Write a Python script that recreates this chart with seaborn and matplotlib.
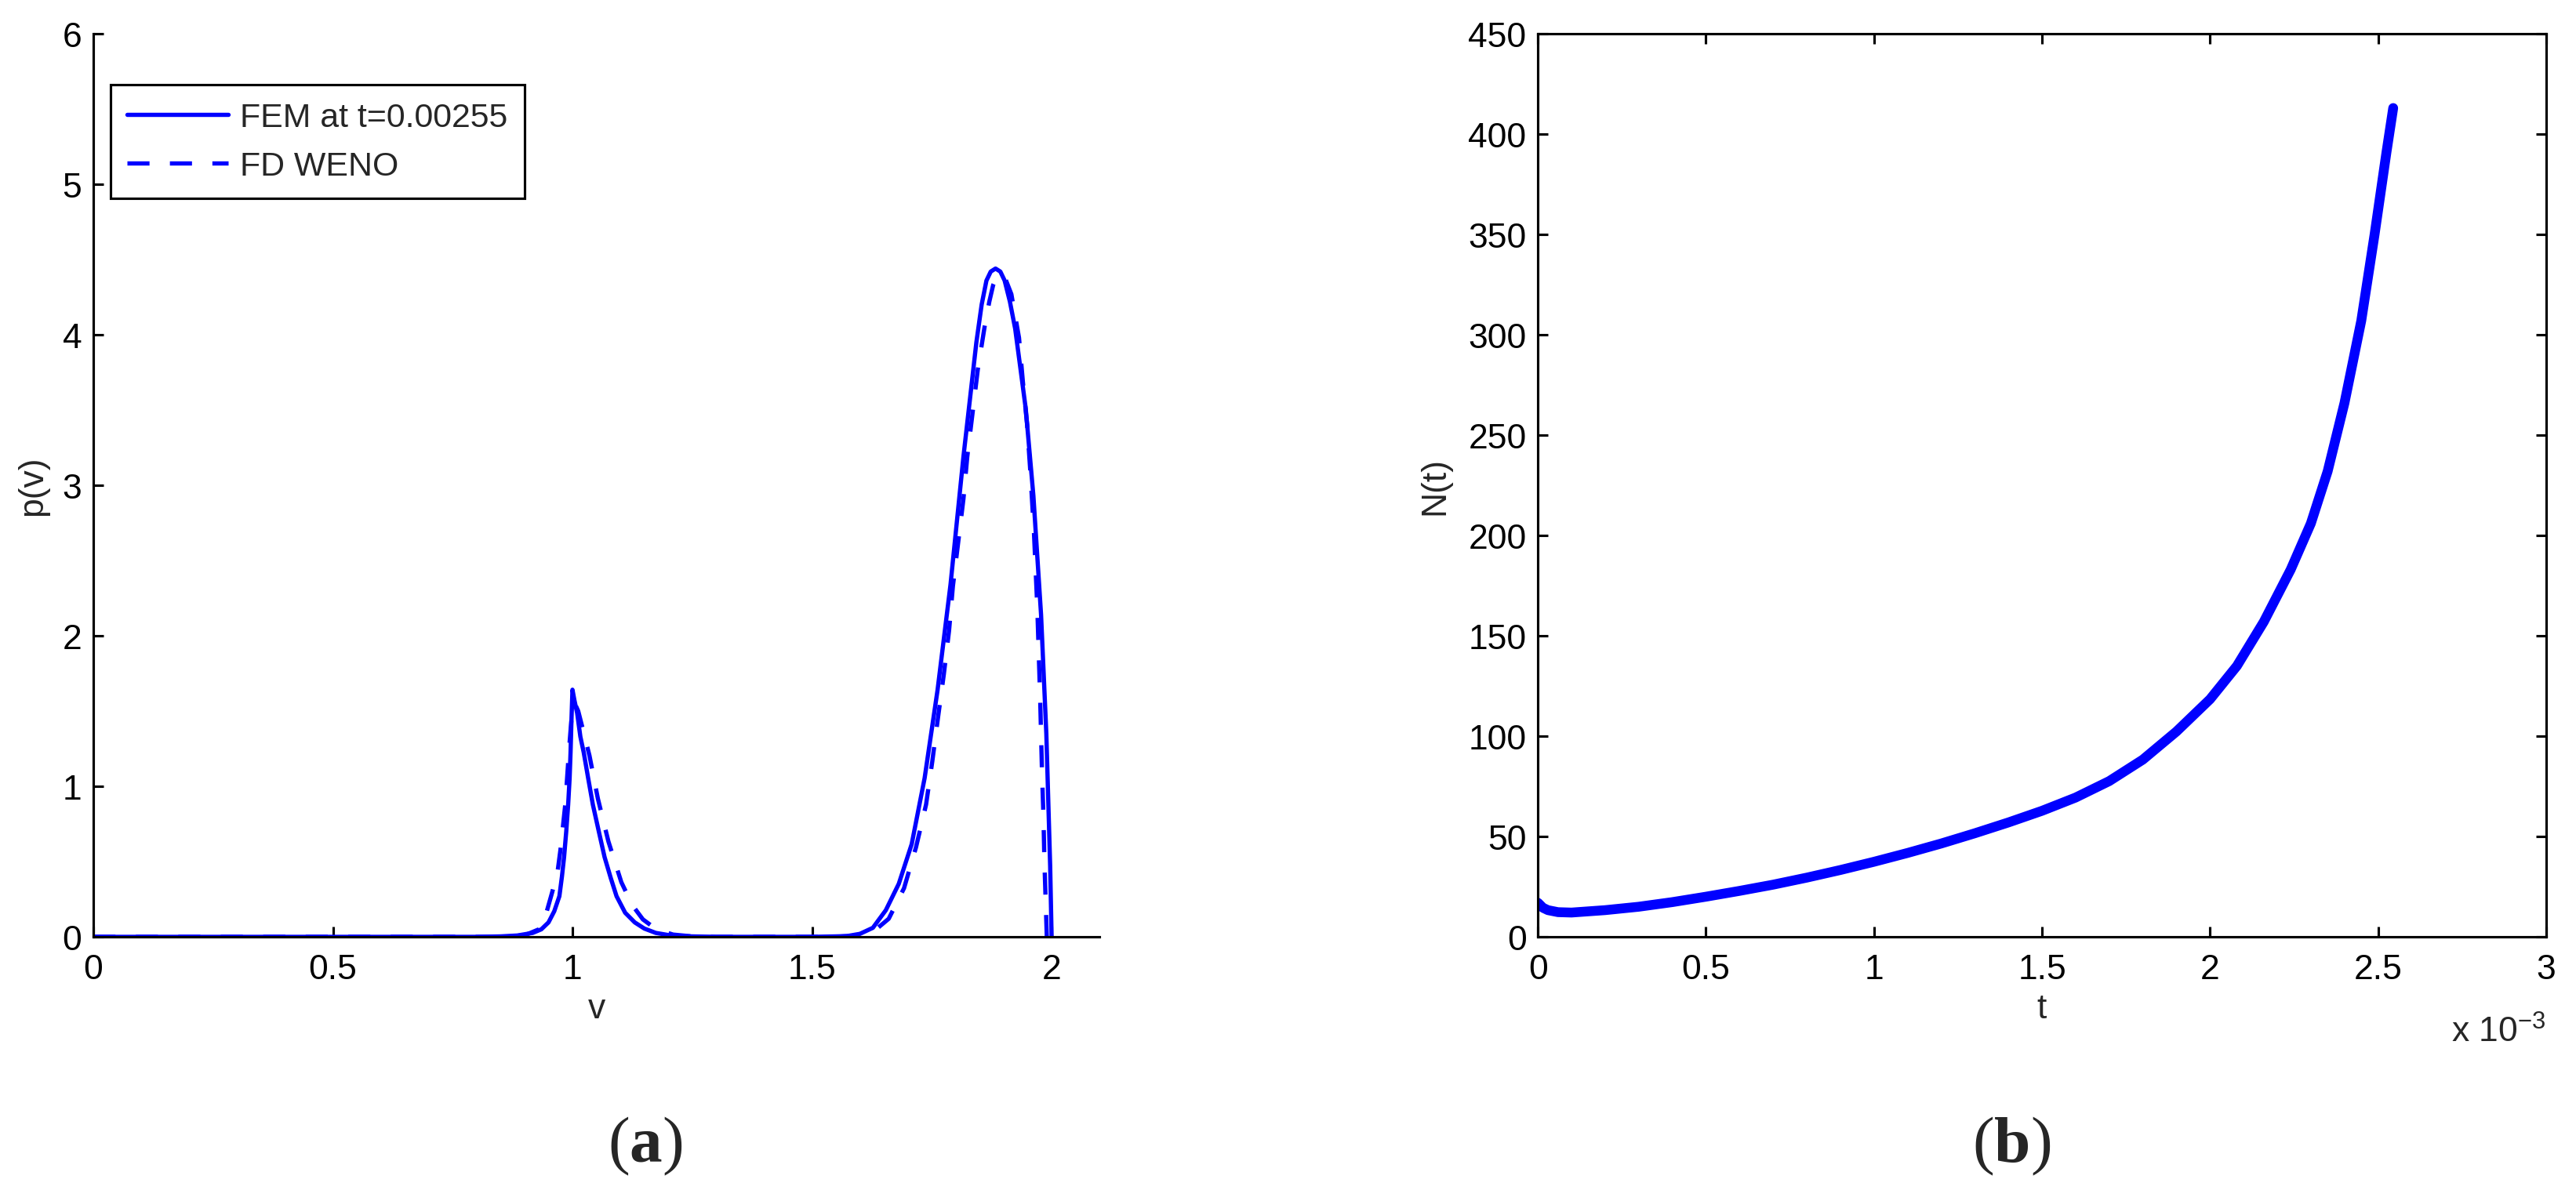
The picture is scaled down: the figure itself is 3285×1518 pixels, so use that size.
import matplotlib
matplotlib.use('Agg')
import matplotlib.pyplot as plt
import seaborn as sns
import pandas as pd

# (a) p(v) at t=0.00255, FEM (solid) vs FD WENO (dashed)
v_fem = [0.0, 0.5, 0.80, 0.85, 0.885, 0.917, 0.935, 0.950, 0.962, 0.9727, 0.978, 0.9825,
         0.987, 0.991, 0.994, 0.996, 0.998, 1.000, 1.004, 1.0098, 1.0165, 1.0235, 1.033,
         1.0426, 1.055, 1.067, 1.080, 1.092, 1.110, 1.130, 1.150, 1.174, 1.200, 1.234, 1.30,
         1.50, 1.55, 1.573, 1.60, 1.627, 1.654, 1.681, 1.708, 1.735, 1.762, 1.789, 1.816,
         1.843, 1.854, 1.864, 1.873, 1.883, 1.893, 1.902, 1.913, 1.924, 1.946, 1.962,
         1.978, 1.989, 1.997, 2.000]
p_fem = [0.0, 0.0, 0.0, 0.003, 0.009, 0.026, 0.05, 0.096, 0.17, 0.27, 0.40, 0.53,
         0.70, 0.878, 1.05, 1.225, 1.45, 1.642, 1.573, 1.486, 1.33, 1.225, 1.05,
         0.878, 0.70, 0.53, 0.39, 0.27, 0.16, 0.096, 0.055, 0.026, 0.012, 0.004, 0.0,
         0.0, 0.003, 0.005, 0.02, 0.06, 0.177, 0.352, 0.616, 1.055, 1.64, 2.34, 3.19,
         3.95, 4.20, 4.36, 4.42, 4.44, 4.42, 4.36, 4.22, 4.04, 3.51, 2.93,
         2.14, 1.35, 0.47, 0.0]

v_weno = [0.0, 0.85, 0.90, 0.93, 0.946, 0.958, 0.969, 0.975, 0.980, 0.985, 0.988, 0.993,
          0.998, 1.005, 1.012, 1.020, 1.0355, 1.053, 1.075, 1.102, 1.125, 1.147, 1.175,
          1.21, 1.25, 1.30, 1.55, 1.60, 1.63, 1.66, 1.692, 1.717, 1.738, 1.751, 1.763,
          1.775, 1.786, 1.794, 1.805, 1.816, 1.824, 1.835, 1.846, 1.860, 1.870, 1.878,
          1.885, 1.892, 1.898, 1.905, 1.916, 1.932, 1.940, 1.949, 1.955, 1.963, 1.970,
          1.976, 1.980, 1.983, 1.985, 1.988, 1.990]
p_weno = [0.0, 0.0, 0.01, 0.05, 0.165, 0.30, 0.435, 0.58, 0.73, 0.88, 1.017, 1.25,
          1.45, 1.55, 1.50, 1.40, 1.204, 0.919, 0.634, 0.363, 0.21, 0.116, 0.05,
          0.015, 0.003, 0.0, 0.0, 0.01, 0.04, 0.12, 0.323, 0.595, 0.879, 1.166, 1.459,
          1.743, 2.035, 2.33, 2.62, 2.91, 3.19, 3.48, 3.77, 4.05, 4.22, 4.33,
          4.38, 4.40, 4.39, 4.36, 4.27, 3.98, 3.69, 3.40, 3.12, 2.7, 2.2,
          1.6, 1.09, 0.8, 0.5, 0.2, 0.0]

# (b) firing rate N(t), t in units of 1e-3
t_e3 = [0.0, 0.015, 0.03, 0.06, 0.1, 0.2, 0.3, 0.4, 0.5, 0.6, 0.7, 0.8, 0.9, 1.0,
        1.1, 1.2, 1.3, 1.4, 1.5, 1.6, 1.7, 1.8, 1.9, 2.0, 2.08, 2.16, 2.24, 2.3,
        2.35, 2.4, 2.45, 2.4896, 2.525, 2.545]
N_t = [17.0, 14.5, 13.3, 12.3, 12.1, 13.3, 15.0, 17.3, 20.0, 22.9, 26.0, 29.5, 33.3, 37.4,
       41.8, 46.5, 51.6, 57.0, 62.8, 69.4, 77.6, 88.3, 102.3, 118.4, 135, 157, 183, 206,
       232, 266, 307, 350, 391, 413]

sns.set_style('white')
plt.rcParams['font.family'] = ['Liberation Sans', 'DejaVu Sans']
plt.rcParams['mathtext.fontset'] = 'custom'
plt.rcParams['mathtext.rm'] = 'Liberation Sans'
plt.rcParams['mathtext.bf'] = 'Liberation Serif:bold'

blue = '#0000ff'
fs = 10.7

fig = plt.figure(figsize=(10.95, 5.0633), dpi=300)
ax1 = fig.add_axes([0.03623, 0.2126, 0.3906, 0.7584])
ax2 = fig.add_axes([0.5970, 0.2126, 0.3914, 0.7584])

df_fem = pd.DataFrame({'v': v_fem, 'p': p_fem})
df_weno = pd.DataFrame({'v': v_weno, 'p': p_weno})
sns.lineplot(data=df_fem, x='v', y='p', ax=ax1, color=blue, lw=1.3,
             estimator=None, sort=False, label='FEM at t=0.00255')
sns.lineplot(data=df_weno, x='v', y='p', ax=ax1, color=blue, lw=1.3,
             estimator=None, sort=False, label='FD WENO', linestyle=(0, (5.2, 4.8)))

ax1.set_xlim(0, 2.1)
ax1.set_ylim(0, 6)
ax1.set_xticks([0, 0.5, 1, 1.5, 2])
ax1.set_xticklabels(['0', '0.5', '1', '1.5', '2'])
ax1.set_yticks(range(0, 7))
ax1.spines['top'].set_visible(False)
ax1.spines['right'].set_visible(False)
ax1.set_xlabel('v', fontsize=fs)
ax1.set_ylabel('p(v)', fontsize=fs)
ax1.xaxis.set_label_coords(0.5, -0.062)
ax1.yaxis.set_label_coords(-0.044, 0.5)
leg = ax1.legend(loc='upper left', bbox_to_anchor=(0.0171, 0.9435), borderaxespad=0,
                 fontsize=10.3, fancybox=False, framealpha=1, edgecolor='black',
                 handlelength=3.0, handletextpad=0.35, labelspacing=0.52,
                 borderpad=0.5)
leg.get_frame().set_linewidth(0.75)

df_n = pd.DataFrame({'t': t_e3, 'N': N_t})
sns.lineplot(data=df_n, x='t', y='N', ax=ax2, color=blue, lw=3.0,
             estimator=None, sort=False)
ax2.set_xlim(0, 3)
ax2.set_ylim(0, 450)
ax2.set_xticks([0, 0.5, 1, 1.5, 2, 2.5, 3])
ax2.set_xticklabels(['0', '0.5', '1', '1.5', '2', '2.5', '3'])
ax2.set_yticks(range(0, 451, 50))
ax2.set_xlabel('t', fontsize=fs)
ax2.set_ylabel('N(t)', fontsize=fs)
ax2.xaxis.set_label_coords(0.5, -0.062)
ax2.yaxis.set_label_coords(-0.086, 0.5)
ax2.text(1.0, -0.116, r'x 10$^{-3}$', transform=ax2.transAxes, ha='right',
         va='baseline', fontsize=fs)

for ax, boxed in ((ax1, False), (ax2, True)):
    ax.tick_params(direction='in', length=3.1, width=0.75, labelsize=fs,
                   top=boxed, right=boxed, bottom=True, left=True, colors='black')
    ax.tick_params(axis='x', pad=5)
    ax.tick_params(axis='y', pad=3.5)
    for s in ax.spines.values():
        s.set_linewidth(0.75)
        s.set_color('black')

fig.text(0.2505, 0.0375, r'($\mathbf{a}$)', family='Liberation Serif', fontsize=20,
         ha='center', va='center')
fig.text(0.781, 0.0375, r'($\mathbf{b}$)', family='Liberation Serif', fontsize=20,
         ha='center', va='center')

fig.savefig('out.png', dpi=300)
plt.close(fig)
